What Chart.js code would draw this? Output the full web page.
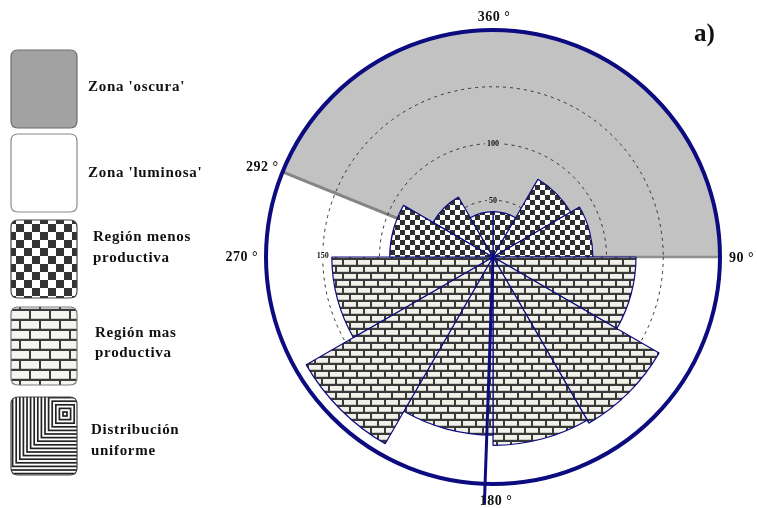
<!DOCTYPE html>
<html>
<head>
<meta charset="utf-8">
<script src="https://cdn.jsdelivr.net/npm/chart.js@4/dist/chart.umd.min.js"></script>
<style>
  html, body { margin: 0; padding: 0; background: #ffffff; }
  #wrap { position: relative; width: 757px; height: 508px; }
</style>
</head>
<body>
<div id="wrap"><canvas id="c"></canvas></div>
<script>
// Rose diagram: twelve 30° sectors, clockwise from north
const sectorLabels = ['0-30°', '30-60°', '60-90°', '90-120°', '120-150°', '150-180°',
                      '180-210°', '210-240°', '240-270°', '270-300°', '300-330°', '330-360°'];
const sectorValues = [40, 79, 88, 126, 169, 166, 157, 190, 142, 91, 61, 40];
const sectorRegion = ['menos', 'menos', 'menos', 'mas', 'mas', 'mas',
                      'mas', 'mas', 'mas', 'menos', 'menos', 'menos'];
const ringTicks = [50, 100, 150];
const radialMax = 200;
const darkZone = [292, 90];          // degrees, clockwise from north
const meanDirection = [182];
const directionLabels = ['360 °', '90 °', '180 °', '270 °', '292 °'];
const directionAngles = [0, 90, 180, 270, 292];
const legendLabels = [["Zona 'oscura'"], ["Zona 'luminosa'"], ['Región menos', 'productiva'],
                      ['Región mas', 'productiva'], ['Distribución', 'uniforme']];
const panelTag = 'a)';

const NAVY = '#0c0c80';
const SERIF = "'Liberation Serif', 'Times New Roman', serif";

const canvas = document.getElementById('c');
const baseCtx = canvas.getContext('2d');

function checkerPattern(cell, dark) {
  const t = document.createElement('canvas');
  t.width = t.height = cell * 2;
  const g = t.getContext('2d');
  g.fillStyle = '#ffffff';
  g.fillRect(0, 0, cell * 2, cell * 2);
  g.fillStyle = dark;
  g.fillRect(0, 0, cell, cell);
  g.fillRect(cell, cell, cell, cell);
  return baseCtx.createPattern(t, 'repeat');
}

function brickPattern(w, h, mortar, face, shade) {
  const t = document.createElement('canvas');
  t.width = w;
  t.height = h * 2;
  const g = t.getContext('2d');
  g.fillStyle = mortar;
  g.fillRect(0, 0, w, h * 2);
  const brick = (x, y) => {
    g.fillStyle = face;
    g.fillRect(x, y, w - 2, h - 2);
    g.fillStyle = shade;
    g.fillRect(x, y + h - 3, w - 2, 1);
  };
  brick(1, 1);
  brick(1 - w / 2, h + 1);
  brick(1 + w / 2, h + 1);
  return baseCtx.createPattern(t, 'repeat');
}

const chartChecker = checkerPattern(5, '#2f2f2f');
const chartBrick = brickPattern(14, 7, '#3a3a3a', '#f1f1ea', '#c9c9c0');
const legendChecker = checkerPattern(8, '#333333');
const legendBrick = brickPattern(20, 10, '#3a3a3a', '#f4f4f0', '#c9c9c4');

const rad = deg => (deg - 90) * Math.PI / 180;   // compass degrees -> canvas radians

function roundRectPath(ctx, x, y, w, h, r) {
  ctx.beginPath();
  ctx.moveTo(x + r, y);
  ctx.lineTo(x + w - r, y);
  ctx.quadraticCurveTo(x + w, y, x + w, y + r);
  ctx.lineTo(x + w, y + h - r);
  ctx.quadraticCurveTo(x + w, y + h, x + w - r, y + h);
  ctx.lineTo(x + r, y + h);
  ctx.quadraticCurveTo(x, y + h, x, y + h - r);
  ctx.lineTo(x, y + r);
  ctx.quadraticCurveTo(x, y, x + r, y);
  ctx.closePath();
}

function inDarkZone(deg) {
  const a = ((deg % 360) + 360) % 360;
  return a >= darkZone[0] || a <= darkZone[1];
}

// Shaded 'oscura' zone and its edges, under the grid and sectors
const zonePlugin = {
  id: 'zone',
  beforeDraw(chart) {
    const s = chart.scales.r;
    const ctx = chart.ctx;
    const cx = s.xCenter, cy = s.yCenter;
    const R = s.getDistanceFromCenterForValue(radialMax);
    ctx.save();
    ctx.beginPath();
    ctx.moveTo(cx, cy);
    ctx.arc(cx, cy, R, rad(darkZone[0]), rad(darkZone[1] + 360));
    ctx.closePath();
    ctx.fillStyle = '#c2c2c2';
    ctx.fill();
    ctx.lineCap = 'butt';
    ctx.strokeStyle = '#858585';
    ctx.lineWidth = 3;
    ctx.beginPath();
    ctx.moveTo(cx, cy);
    ctx.lineTo(cx + R * Math.cos(rad(darkZone[0])), cy + R * Math.sin(rad(darkZone[0])));
    ctx.stroke();
    ctx.strokeStyle = '#909090';
    ctx.lineWidth = 2.5;
    ctx.beginPath();
    ctx.moveTo(cx, cy);
    ctx.lineTo(cx + R * Math.cos(rad(darkZone[1])), cy + R * Math.sin(rad(darkZone[1])));
    ctx.stroke();
    ctx.restore();
  }
};

// Mean-direction needle, ring values, direction labels and the legend
const overlayPlugin = {
  id: 'overlay',
  afterDatasetsDraw(chart) {
    const s = chart.scales.r;
    const ctx = chart.ctx;
    const cx = s.xCenter, cy = s.yCenter;
    const R = s.getDistanceFromCenterForValue(radialMax);

    // needle
    ctx.save();
    ctx.strokeStyle = NAVY;
    ctx.lineWidth = 3;
    meanDirection.forEach(d => {
      ctx.beginPath();
      ctx.moveTo(cx, cy);
      ctx.lineTo(cx + (R + 20) * Math.cos(rad(d)), cy + (R + 20) * Math.sin(rad(d)));
      ctx.stroke();
    });

    // ring values
    const ringAngles = [0, 0, 270];
    ctx.font = 'bold 8px ' + SERIF;
    ctx.textAlign = 'center';
    ctx.textBaseline = 'middle';
    ringTicks.forEach((v, i) => {
      const r = s.getDistanceFromCenterForValue(v);
      const a = ringAngles[i];
      const x = cx + r * Math.cos(rad(a));
      const y = cy + r * Math.sin(rad(a)) - (a === 270 ? 2 : 0);
      const w = ctx.measureText(String(v)).width + 4;
      ctx.fillStyle = inDarkZone(a) ? '#c2c2c2' : '#ffffff';
      ctx.fillRect(x - w / 2, y - 5, w, 10);
      ctx.fillStyle = '#111';
      ctx.fillText(String(v), x, y + 0.5);
    });

    // direction labels
    const nudges = [[1, -13, 'center'], [9, 1, 'left'], [3, 17, 'center'], [-8, 0, 'right'], [-4, -5, 'right']];
    ctx.font = 'bold 14px ' + SERIF;
    ctx.letterSpacing = '0.5px';
    ctx.fillStyle = '#111';
    directionLabels.forEach((t, i) => {
      const a = directionAngles[i];
      const x = cx + R * Math.cos(rad(a)) + nudges[i][0];
      const y = cy + R * Math.sin(rad(a)) + nudges[i][1];
      ctx.textAlign = nudges[i][2];
      ctx.fillText(t, x, y);
    });

    ctx.letterSpacing = '0px';
    ctx.font = 'bold 25px ' + SERIF;
    ctx.textAlign = 'left';
    ctx.fillText(panelTag, 694, 35);
    ctx.restore();

    drawLegend(ctx);
  }
};

function drawLegend(ctx) {
  const bx = 11, bw = 66, bh = 78, rr = 7;
  const tops = [50, 134, 220, 307, 397];
  const textX = [88, 88, 93, 95, 91];
  const textY = [[87], [173], [237, 258], [333, 353], [430, 451]];
  const fills = ['#a2a2a2', '#ffffff', legendChecker, legendBrick, null];
  const edges = ['#6d6d6d', '#8a8a8a', '#444444', '#7a7a7a', '#444444'];

  ctx.save();
  legendLabels.forEach((lines, i) => {
    const y = tops[i];
    roundRectPath(ctx, bx, y, bw, bh, rr);
    ctx.save();
    ctx.clip();
    if (fills[i]) {
      ctx.fillStyle = fills[i];
      ctx.fillRect(bx, y, bw, bh);
    } else {
      ctx.fillStyle = '#ffffff';
      ctx.fillRect(bx, y, bw, bh);
      ctx.strokeStyle = '#222';
      ctx.lineWidth = 1.7;
      const qx = bx + 54, qy = y + 17;
      for (let h = 2; h < 110; h += 3.6) {
        ctx.strokeRect(qx - h, qy - h, 2 * h, 2 * h);
      }
    }
    ctx.restore();
    roundRectPath(ctx, bx, y, bw, bh, rr);
    ctx.strokeStyle = edges[i];
    ctx.lineWidth = 1.2;
    ctx.stroke();

    ctx.fillStyle = '#111';
    ctx.font = 'bold 15px ' + SERIF;
    ctx.letterSpacing = '0.7px';
    ctx.textAlign = 'left';
    ctx.textBaseline = 'middle';
    lines.forEach((t, k) => ctx.fillText(t, textX[i], textY[i][k]));
  });
  ctx.restore();
}

const isOuter = c => c.tick && c.tick.value === radialMax;

new Chart(canvas, {
  type: 'polarArea',
  data: {
    labels: sectorLabels,
    datasets: [{
      data: sectorValues,
      backgroundColor: c => sectorRegion[c.dataIndex] === 'mas' ? chartBrick : chartChecker,
      borderColor: NAVY,
      borderWidth: 1.2,
      borderAlign: 'center'
    }]
  },
  options: {
    responsive: true,
    maintainAspectRatio: false,
    animation: false,
    events: [],
    layout: { padding: { left: 266, right: 37, top: 30, bottom: 24 } },
    plugins: {
      legend: { display: false },
      tooltip: { enabled: false }
    },
    scales: {
      r: {
        min: 0,
        max: radialMax,
        startAngle: 0,
        afterBuildTicks: s => { s.ticks = [0, ...ringTicks, radialMax].map(v => ({ value: v })); },
        ticks: { display: false },
        angleLines: { display: false },
        pointLabels: { display: false },
        grid: {
          circular: true,
          color: c => isOuter(c) ? NAVY : '#333333',
          lineWidth: c => isOuter(c) ? 4 : 1
        },
        border: {
          dash: c => isOuter(c) ? [] : [3, 4]
        }
      }
    }
  },
  plugins: [zonePlugin, overlayPlugin]
});
</script>
</body>
</html>
